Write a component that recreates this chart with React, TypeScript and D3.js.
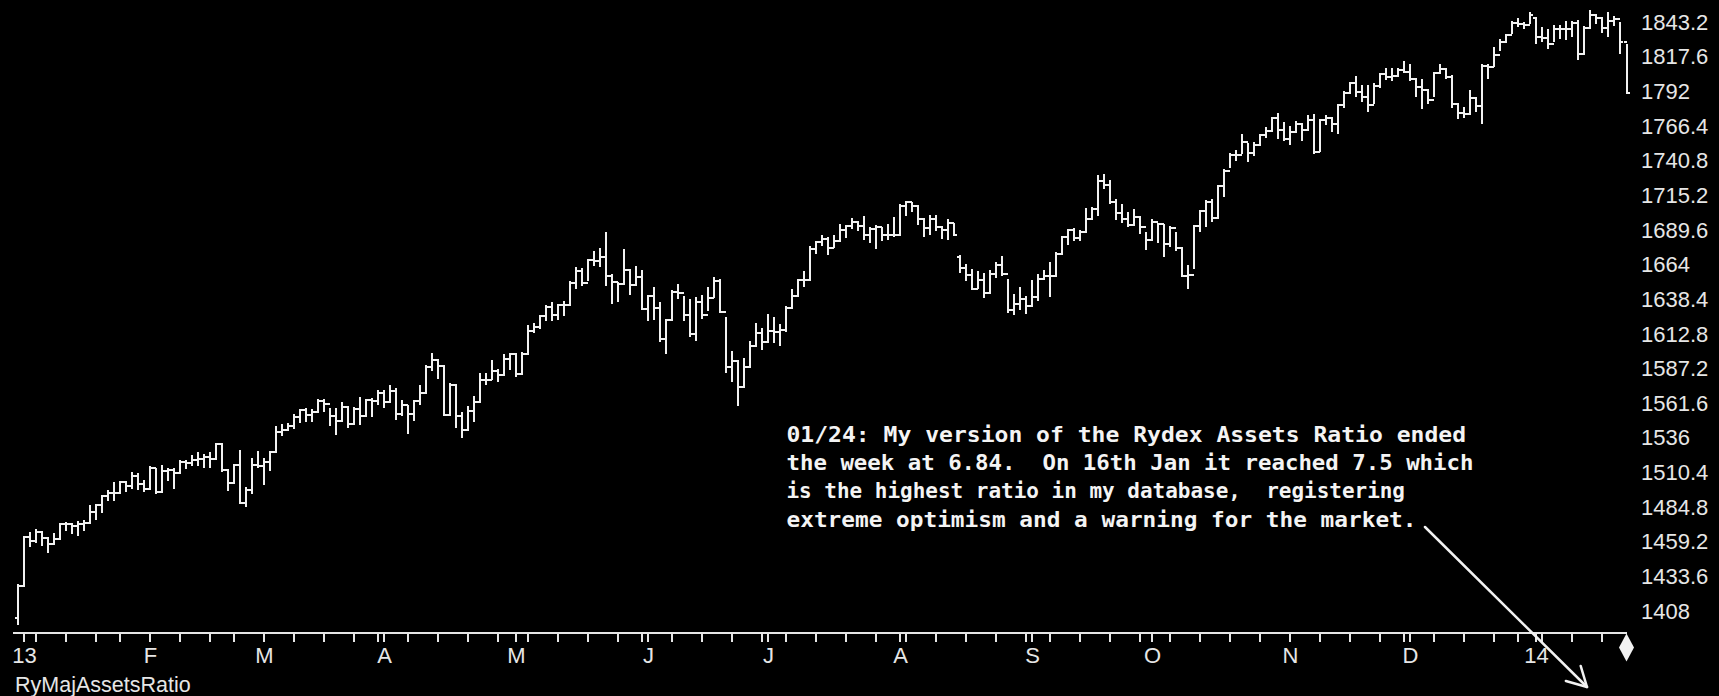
import React from 'react';
import * as d3 from 'd3';

// trading calendar (Dec 31 2012 .. Jan 24 2014)
const firstDay = '2012-12-31';
const lastDay = '2014-01-24';
const holidays = [
    '2013-01-01', '2013-01-21', '2013-02-18', '2013-03-29', '2013-05-27', '2013-07-04',
    '2013-09-02', '2013-11-28', '2013-12-25', '2014-01-01', '2014-01-20',
];

// daily bars, one line per month
const opens: number[] = [
    1402.43,
    1426.19, 1462.42, 1459.37, 1466.47, 1461.89, 1457.15, 1461.02, 1472.12, 1472.05, 1470.68, 1472.34, 1472.63, 1480.94, 1485.98, 1492.56, 1494.81, 1494.82, 1502.96, 1500.18, 1507.84, 1501.96,
    1498.11, 1513.17, 1495.71, 1511.29, 1512.12, 1509.39, 1517.93, 1517.01, 1519.43, 1520.33, 1521.38, 1519.79, 1530.94, 1511.95, 1502.42, 1515.60, 1487.85, 1496.94, 1515.99,
    1514.68, 1518.20, 1525.20, 1539.79, 1541.46, 1544.26, 1551.18, 1556.22, 1552.48, 1554.52, 1563.23, 1560.70, 1552.10, 1548.34, 1558.71, 1545.80, 1556.89, 1551.69, 1563.77, 1562.85,
    1569.19, 1562.17, 1570.25, 1553.69, 1559.98, 1553.28, 1563.07, 1568.61, 1587.73, 1593.37, 1588.85, 1552.36, 1574.57, 1552.01, 1541.61, 1555.25, 1562.50, 1578.78, 1578.79, 1585.16, 1582.24, 1593.61,
    1597.57, 1582.70, 1597.59, 1614.42, 1617.50, 1625.96, 1632.69, 1626.67, 1633.70, 1633.77, 1650.34, 1658.78, 1650.47, 1667.47, 1666.29, 1669.16, 1655.35, 1650.51, 1649.60, 1660.06, 1648.36, 1654.41,
    1630.74, 1640.42, 1631.38, 1608.90, 1622.56, 1643.38, 1642.81, 1626.13, 1612.52, 1636.36, 1626.73, 1639.04, 1651.81, 1628.93, 1588.19, 1592.43, 1573.09, 1588.03, 1603.26, 1613.20,
    1606.28, 1614.96, 1614.08, 1615.41, 1631.89, 1640.46, 1652.32, 1652.62, 1675.02, 1680.19, 1682.50, 1676.26, 1680.91, 1689.37, 1692.09, 1695.53, 1692.39, 1685.94, 1690.25, 1691.65, 1685.33, 1685.96,
    1685.73, 1706.87, 1709.67, 1707.14, 1697.37, 1690.91, 1697.48, 1691.42, 1689.47, 1694.16, 1669.00, 1661.32, 1655.83, 1646.06, 1652.35, 1642.80, 1656.96, 1663.50, 1656.78, 1630.48, 1634.96, 1638.17,
    1632.97, 1639.77, 1653.08, 1655.08, 1655.17, 1671.71, 1683.99, 1689.13, 1683.42, 1687.99, 1697.60, 1704.76, 1725.52, 1722.34, 1709.91, 1701.84, 1697.42, 1692.77, 1698.67, 1691.75,
    1681.55, 1695.00, 1693.87, 1678.66, 1690.50, 1676.12, 1655.45, 1656.40, 1692.56, 1703.20, 1710.14, 1698.06, 1721.54, 1733.15, 1744.50, 1744.66, 1754.67, 1746.38, 1752.07, 1759.77, 1762.11, 1771.95, 1763.31,
    1756.54, 1761.64, 1767.93, 1762.97, 1770.49, 1747.15, 1770.61, 1771.89, 1767.69, 1782.00, 1790.62, 1798.18, 1791.53, 1787.87, 1781.37, 1795.85, 1804.76, 1802.48, 1802.75, 1807.23,
    1805.81, 1800.90, 1795.15, 1792.81, 1785.03, 1805.09, 1808.37, 1802.62, 1782.22, 1775.50, 1775.32, 1786.54, 1781.00, 1810.65, 1809.60, 1818.32, 1827.99, 1833.32, 1842.02, 1841.40, 1841.07,
    1845.86, 1831.98, 1831.37, 1826.77, 1837.88, 1837.49, 1838.13, 1842.37, 1819.20, 1838.88, 1848.38, 1845.89, 1838.70, 1843.80, 1844.86, 1828.46,
];

const highs: number[] = [
    1426.74,
    1462.43, 1465.47, 1467.94, 1466.47, 1461.89, 1464.73, 1472.30, 1472.75, 1472.05, 1473.31, 1473.96, 1485.16, 1485.98, 1492.56, 1496.13, 1502.27, 1503.26, 1503.23, 1509.94, 1509.35, 1504.19,
    1514.41, 1512.99, 1514.96, 1512.53, 1512.90, 1518.31, 1518.31, 1522.29, 1524.69, 1523.14, 1524.24, 1530.94, 1530.94, 1511.95, 1515.64, 1525.84, 1498.99, 1520.08, 1525.34,
    1519.99, 1525.27, 1543.47, 1545.25, 1545.78, 1552.48, 1556.27, 1556.77, 1556.39, 1563.32, 1563.62, 1557.25, 1557.04, 1561.56, 1558.71, 1557.74, 1564.91, 1563.95, 1564.07, 1570.28,
    1570.57, 1573.66, 1571.47, 1562.60, 1558.91, 1563.07, 1573.89, 1589.07, 1597.35, 1593.30, 1588.85, 1575.35, 1574.57, 1554.38, 1558.33, 1565.55, 1583.00, 1583.00, 1592.64, 1585.78, 1596.65, 1597.57,
    1597.55, 1598.60, 1618.46, 1619.77, 1626.03, 1632.78, 1635.01, 1633.70, 1636.00, 1651.10, 1661.49, 1660.51, 1667.47, 1672.84, 1674.93, 1687.18, 1655.91, 1649.78, 1674.21, 1660.06, 1661.91, 1658.99,
    1640.42, 1646.53, 1635.68, 1622.56, 1644.40, 1648.69, 1640.13, 1637.71, 1639.25, 1640.80, 1646.50, 1654.19, 1652.45, 1624.62, 1599.19, 1592.43, 1593.79, 1606.83, 1620.07, 1615.94,
    1626.61, 1624.26, 1618.97, 1632.07, 1644.68, 1652.62, 1657.92, 1676.63, 1680.19, 1684.51, 1683.73, 1684.75, 1693.12, 1692.09, 1697.61, 1695.53, 1698.78, 1690.94, 1691.90, 1690.92, 1693.19, 1698.43,
    1707.85, 1709.67, 1709.24, 1707.14, 1697.37, 1699.42, 1699.35, 1691.49, 1696.81, 1693.44, 1670.00, 1663.60, 1659.60, 1658.59, 1656.96, 1659.07, 1664.85, 1669.51, 1652.54, 1641.18, 1646.41, 1640.08,
    1651.35, 1655.72, 1659.11, 1664.83, 1672.40, 1684.09, 1689.13, 1689.97, 1688.73, 1704.95, 1705.52, 1729.44, 1729.86, 1725.52, 1711.44, 1707.63, 1701.71, 1703.85, 1698.67, 1687.26,
    1696.55, 1693.87, 1692.62, 1691.27, 1687.16, 1676.12, 1662.40, 1692.56, 1703.44, 1711.03, 1711.50, 1721.76, 1733.45, 1745.31, 1747.79, 1759.33, 1752.70, 1753.66, 1759.82, 1764.99, 1772.09, 1775.22, 1768.53,
    1765.67, 1768.78, 1767.93, 1773.44, 1774.54, 1770.78, 1773.22, 1771.78, 1782.00, 1791.53, 1798.22, 1802.33, 1795.53, 1795.73, 1797.16, 1804.84, 1808.42, 1808.42, 1808.42, 1813.55,
    1811.52, 1800.99, 1799.80, 1792.82, 1805.09, 1811.52, 1808.37, 1802.97, 1782.22, 1779.44, 1792.22, 1786.77, 1811.08, 1810.88, 1823.75, 1829.75, 1833.32, 1842.84, 1844.89, 1842.47, 1849.44,
    1845.86, 1838.24, 1837.16, 1840.10, 1840.02, 1843.23, 1843.15, 1843.45, 1839.26, 1850.84, 1848.38, 1846.04, 1849.31, 1846.87, 1842.29, 1825.97,
];

const lows: number[] = [
    1398.11,
    1426.19, 1455.53, 1458.99, 1456.62, 1451.64, 1457.15, 1461.02, 1467.58, 1465.69, 1463.76, 1467.60, 1472.63, 1475.81, 1481.16, 1489.90, 1489.46, 1494.82, 1496.33, 1498.89, 1498.09, 1496.76,
    1498.11, 1495.11, 1495.71, 1504.71, 1498.49, 1509.39, 1513.61, 1515.61, 1515.93, 1514.02, 1514.14, 1520.04, 1511.41, 1497.29, 1502.42, 1487.85, 1485.01, 1494.88, 1514.46,
    1501.48, 1512.29, 1525.20, 1538.11, 1541.46, 1542.94, 1547.36, 1548.24, 1548.25, 1554.52, 1555.74, 1545.36, 1538.57, 1548.34, 1543.55, 1545.80, 1546.22, 1551.69, 1551.90, 1561.08,
    1558.47, 1562.17, 1549.80, 1552.52, 1539.50, 1548.64, 1560.92, 1568.61, 1586.17, 1579.97, 1552.28, 1552.36, 1543.69, 1536.03, 1541.61, 1548.19, 1562.50, 1575.80, 1578.93, 1577.56, 1582.34, 1586.50,
    1581.28, 1582.77, 1597.60, 1614.21, 1616.64, 1622.70, 1623.09, 1623.71, 1626.74, 1633.75, 1646.68, 1648.60, 1652.45, 1663.52, 1662.67, 1648.86, 1635.53, 1636.88, 1649.61, 1642.00, 1648.61, 1630.74,
    1622.72, 1623.62, 1607.09, 1598.23, 1622.56, 1639.26, 1622.92, 1610.92, 1608.07, 1623.96, 1630.34, 1639.77, 1628.91, 1584.32, 1577.70, 1560.33, 1573.09, 1588.03, 1603.26, 1601.06,
    1606.28, 1606.77, 1604.57, 1614.71, 1631.89, 1640.46, 1647.66, 1652.62, 1672.33, 1677.89, 1671.84, 1677.06, 1680.91, 1684.08, 1690.67, 1689.29, 1682.57, 1680.07, 1676.02, 1681.86, 1682.42, 1684.94,
    1685.73, 1700.68, 1703.55, 1694.08, 1684.51, 1686.02, 1689.03, 1683.35, 1682.62, 1685.39, 1658.59, 1652.61, 1645.84, 1646.13, 1639.43, 1642.80, 1654.81, 1656.02, 1629.05, 1627.47, 1630.88, 1628.05,
    1632.97, 1637.41, 1653.07, 1640.62, 1655.17, 1671.71, 1678.70, 1681.96, 1682.22, 1687.99, 1697.60, 1700.35, 1720.20, 1708.89, 1697.10, 1694.90, 1691.88, 1693.11, 1687.01, 1674.99,
    1681.55, 1680.34, 1670.36, 1677.51, 1674.70, 1655.03, 1646.47, 1660.88, 1688.52, 1692.13, 1695.93, 1698.07, 1714.12, 1735.74, 1740.67, 1746.20, 1740.60, 1744.71, 1752.45, 1757.67, 1762.11, 1757.24, 1755.72,
    1752.70, 1761.56, 1755.76, 1762.97, 1746.20, 1747.63, 1767.85, 1762.29, 1760.64, 1780.22, 1790.80, 1788.00, 1784.72, 1777.23, 1783.16, 1794.70, 1800.77, 1800.02, 1802.94, 1805.81,
    1799.77, 1788.58, 1779.09, 1783.38, 1788.52, 1805.09, 1801.42, 1780.09, 1772.28, 1773.01, 1775.32, 1777.05, 1767.99, 1801.35, 1810.25, 1822.09, 1828.02, 1834.96, 1839.81, 1838.77, 1842.41,
    1827.74, 1829.13, 1823.73, 1828.71, 1831.40, 1830.38, 1832.43, 1815.52, 1819.20, 1838.88, 1842.48, 1835.23, 1832.38, 1840.88, 1820.06, 1790.29,
];

const closes: number[] = [
    1426.19,
    1462.42, 1459.37, 1466.47, 1461.89, 1457.15, 1461.02, 1472.12, 1472.05, 1470.68, 1472.34, 1472.63, 1480.94, 1485.98, 1492.56, 1494.81, 1494.82, 1502.96, 1500.18, 1507.84, 1501.96, 1498.11,
    1513.17, 1495.71, 1511.29, 1512.12, 1509.39, 1517.93, 1517.01, 1519.43, 1520.33, 1521.38, 1519.79, 1530.94, 1511.95, 1502.42, 1515.60, 1487.85, 1496.94, 1515.99, 1514.68,
    1518.20, 1525.20, 1539.79, 1541.46, 1544.26, 1551.18, 1556.22, 1552.48, 1554.52, 1563.23, 1560.70, 1552.10, 1548.34, 1558.71, 1545.80, 1556.89, 1551.69, 1563.77, 1562.85, 1569.19,
    1562.17, 1570.25, 1553.69, 1559.98, 1553.28, 1563.07, 1568.61, 1587.73, 1593.37, 1588.85, 1552.36, 1574.57, 1552.01, 1541.61, 1555.25, 1562.50, 1578.78, 1578.79, 1585.16, 1582.24, 1593.61, 1597.57,
    1582.70, 1597.59, 1614.42, 1617.50, 1625.96, 1632.69, 1626.67, 1633.70, 1633.77, 1650.34, 1658.78, 1650.47, 1667.47, 1666.29, 1669.16, 1655.35, 1650.51, 1649.60, 1660.06, 1648.36, 1654.41, 1630.74,
    1640.42, 1631.38, 1608.90, 1622.56, 1643.38, 1642.81, 1626.13, 1612.52, 1636.36, 1626.73, 1639.04, 1651.81, 1628.93, 1588.19, 1592.43, 1573.09, 1588.03, 1603.26, 1613.20, 1606.28,
    1614.96, 1614.08, 1615.41, 1631.89, 1640.46, 1652.32, 1652.62, 1675.02, 1680.19, 1682.50, 1676.26, 1680.91, 1689.37, 1692.09, 1695.53, 1692.39, 1685.94, 1690.25, 1691.65, 1685.33, 1685.96, 1685.73,
    1706.87, 1709.67, 1707.14, 1697.37, 1690.91, 1697.48, 1691.42, 1689.47, 1694.16, 1685.39, 1661.32, 1655.83, 1646.06, 1652.35, 1642.80, 1656.96, 1663.50, 1656.78, 1630.48, 1634.96, 1638.17, 1632.97,
    1639.77, 1653.08, 1655.08, 1655.17, 1671.71, 1683.99, 1689.13, 1683.42, 1687.99, 1697.60, 1704.76, 1725.52, 1722.34, 1709.91, 1701.84, 1697.42, 1692.77, 1698.67, 1691.75, 1681.55,
    1695.00, 1693.87, 1678.66, 1690.50, 1676.12, 1655.45, 1656.40, 1692.56, 1703.20, 1710.14, 1698.06, 1721.54, 1733.15, 1744.50, 1744.66, 1754.67, 1746.38, 1752.07, 1759.77, 1762.11, 1771.95, 1763.31, 1756.54,
    1761.64, 1767.93, 1762.97, 1770.49, 1747.15, 1770.61, 1771.89, 1767.69, 1782.00, 1790.62, 1798.18, 1791.53, 1787.87, 1781.37, 1795.85, 1804.76, 1802.48, 1802.75, 1807.23, 1805.81,
    1800.90, 1795.15, 1792.81, 1785.03, 1805.09, 1808.37, 1802.62, 1782.22, 1775.50, 1775.32, 1786.54, 1781.00, 1810.65, 1809.60, 1818.32, 1827.99, 1833.32, 1842.02, 1841.40, 1841.07, 1848.36,
    1831.98, 1831.37, 1826.77, 1837.88, 1837.49, 1838.13, 1842.37, 1819.20, 1838.88, 1848.38, 1845.89, 1838.70, 1843.80, 1844.86, 1828.46, 1790.29,
];

// axis labels
const monthLabels = ['13', 'F', 'M', 'A', 'M', 'J', 'J', 'A', 'S', 'O', 'N', 'D', '14'];
const priceLabels = [
    '1843.2', '1817.6', '1792', '1766.4', '1740.8', '1715.2', '1689.6', '1664', '1638.4',
    '1612.8', '1587.2', '1561.6', '1536', '1510.4', '1484.8', '1459.2', '1433.6', '1408',
];
const seriesName = 'RyMajAssetsRatio';
const noteLines = [
    '01/24: My version of the Rydex Assets Ratio ended',
    'the week at 6.84.  On 16th Jan it reached 7.5 which',
    'is the highest ratio in my database,  registering',
    'extreme optimism and a warning for the market.',
];

function App() {
    const width = 1719;
    const height = 696;
    const ink = '#f2f2f2';

    const fmt = d3.utcFormat('%Y-%m-%d');
    const parse = d3.utcParse('%Y-%m-%d');
    const days = d3.utcDay
        .range(parse(firstDay) as Date, d3.utcDay.offset(parse(lastDay) as Date, 1))
        .filter(d => d.getUTCDay() !== 0 && d.getUTCDay() !== 6 && !holidays.includes(fmt(d)));

    const n = closes.length;
    const x = d3.scaleLinear().domain([0, n - 1]).range([16.5, 1625.5]);
    const y = d3.scaleLinear().domain([1408, 1843.2]).range([610.7, 21.7]);
    const px = (i: number) => Math.round(x(i)) + 0.5;
    const py = (v: number) => Math.round(y(v));

    const barPath = d3.range(n).map(i => {
        const cx = px(i);
        return `M${cx},${py(highs[i]) - 1}V${py(lows[i]) + 1}` +
            `M${cx - 3},${py(opens[i])}H${cx}` +
            `M${cx},${py(closes[i])}H${cx + 3}`;
    }).join('');

    // ticks: last session of each week, first session of each month
    const weekTicks = d3.range(n - 1).filter(i =>
        +d3.utcWeek.floor(days[i]) !== +d3.utcWeek.floor(days[i + 1]));
    const monthTicks = d3.range(1, n).filter(i =>
        days[i].getUTCMonth() !== days[i - 1].getUTCMonth());

    const axisY = 632.5;
    const lastX = px(n - 1);

    // annotation arrow
    const a0: [number, number] = [1425, 527];
    const a1: [number, number] = [1587, 687];
    const ang = Math.atan2(a1[1] - a0[1], a1[0] - a0[0]);
    const wing = (da: number) =>
        `M${a1[0]},${a1[1]}L${a1[0] - 22 * Math.cos(ang + da)},${a1[1] - 22 * Math.sin(ang + da)}`;

    const noteWidths = [679.5, 687, 618.5, 630];
    const noteBaselines = [441.7, 470, 498.3, 526.7];

    return (
        <svg width={width} height={height}
            style={{ position: 'fixed', left: 0, top: 0, background: '#000', display: 'block' }}>
            <rect width={width} height={height} fill="#000" />

            <path d={barPath} fill="none" stroke={ink} strokeWidth={2} shapeRendering="crispEdges" />

            <g fontFamily="'Liberation Sans', Arial, sans-serif" fontSize={22} fill="#e6e6e6">
                {priceLabels.map(t => (
                    <text key={t} x={1641} y={y(+t) + 8}>{t}</text>
                ))}
            </g>

            <g stroke="#e6e6e6" strokeWidth={2} shapeRendering="crispEdges">
                <line x1={13} x2={lastX} y1={axisY} y2={axisY} />
                {weekTicks.concat(monthTicks).map(i => (
                    <line key={'t' + i} x1={px(i)} x2={px(i)} y1={axisY} y2={axisY + 9} />
                ))}
            </g>
            <path d={`M${lastX},${axisY + 1}L${lastX + 7.5},${axisY + 15}L${lastX},${axisY + 29}L${lastX - 7.5},${axisY + 15}Z`}
                fill="#f2f2f2" />

            <g fontFamily="'Liberation Sans', Arial, sans-serif" fontSize={22} fill="#e6e6e6" textAnchor="middle">
                {monthTicks.map((i, k) => (
                    <text key={'m' + i} x={px(i) + 1} y={663.3}>{monthLabels[k]}</text>
                ))}
            </g>
            <text x={15} y={691.7} fontFamily="'Liberation Sans', Arial, sans-serif" fontSize={21.5} fill="#e6e6e6">
                {seriesName}
            </text>

            <g fontFamily="'DejaVu Sans Mono', monospace" fontWeight="bold" fontSize={21} fill="#f4f4f4">
                {noteLines.map((line, k) => (
                    <text key={k} x={786.5} y={noteBaselines[k]} textLength={noteWidths[k]}
                        lengthAdjust="spacingAndGlyphs" style={{ whiteSpace: 'pre' }}>{line}</text>
                ))}
            </g>

            <g stroke="#f2f2f2" strokeWidth={2.5} fill="none" strokeLinecap="round">
                <path d={`M${a0[0]},${a0[1]}L${a1[0]},${a1[1]}`} />
                <path d={wing(0.5) + wing(-0.5)} />
            </g>
        </svg>
    );
}

export default App;
